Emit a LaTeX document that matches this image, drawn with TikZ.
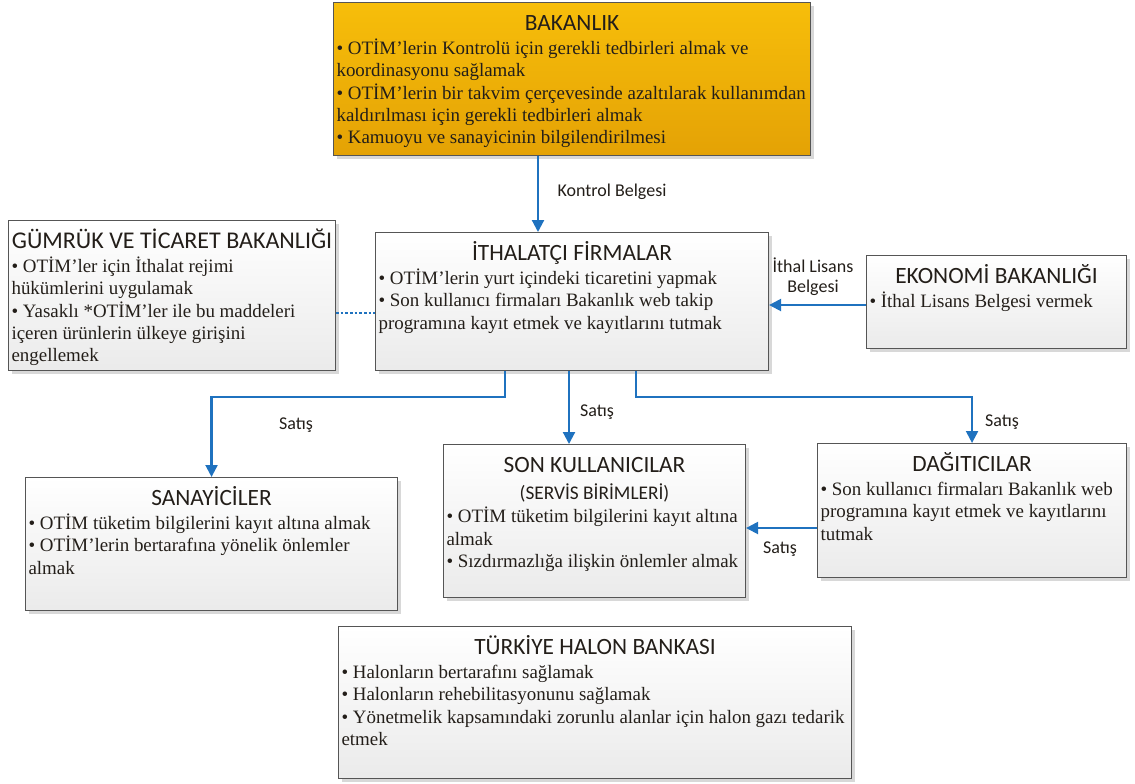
\documentclass[tikz,border=0pt]{standalone}
\usepackage{fontspec}
\setmainfont{Liberation Serif}
\setsansfont{Carlito}
\usetikzlibrary{arrows.meta,shadows,calc}

\definecolor{okmavi}{RGB}{31,114,191}
\definecolor{altinust}{RGB}{247,190,10}
\definecolor{altinalt}{RGB}{228,162,5}
\definecolor{cerceve}{RGB}{85,85,85}
\definecolor{yazi}{RGB}{35,30,25}

\newdimen\pxu \pxu=0.75pt
% kutu icerigi: genislik, yukseklik (px), baslik, maddeler
\newcommand{\kutuici}[5][17.5]{%
  \begin{minipage}[t][#3\pxu][t]{#2\pxu}
    \centering{\sffamily\fontsize{#1}{19}\selectfont\rule{0pt}{21pt}#4\par}
    \vspace{1pt}
    \raggedright\fontsize{14.2}{16.8}\selectfont #5
  \end{minipage}}

\begin{document}
\begin{tikzpicture}[
    x=0.75pt, y=-0.75pt,
    kutu/.style={draw=cerceve, line width=0.8pt, top color=white, bottom color=gray!16,
        drop shadow={shadow xshift=2.5pt, shadow yshift=-2.5pt, fill=gray!60, opacity=0.5},
        anchor=north west, inner xsep=2.25pt, inner ysep=0pt, text=yazi},
    altinkutu/.style={top color=altinust, bottom color=altinalt},
    ok/.style={draw=okmavi, line width=1.6pt, -{Triangle[length=9pt,width=9pt]}},
    kesik/.style={draw=okmavi, line width=1pt, dash pattern=on 2pt off 1.5pt},
    etiket/.style={font=\sffamily\fontsize{13.5}{15}\selectfont, text=yazi, align=center}
]
    \useasboundingbox (0,0) rectangle (1135,783);

    \node[kutu, altinkutu] (bakanlik) at (333,2) {\kutuici{471}{153}{BAKANLIK}{%
        • OTİM’lerin Kontrolü için gerekli tedbirleri almak ve\\
        koordinasyonu sağlamak\\
        • OTİM’lerin bir takvim çerçevesinde azaltılarak kullanımdan\\
        kaldırılması için gerekli tedbirleri almak\\
        • Kamuoyu ve sanayicinin bilgilendirilmesi}};
    \node[kutu] (gumruk) at (8,220) {\kutuici[18]{321}{150}{\mbox{GÜMRÜK VE TİCARET BAKANLIĞI}}{%
        • OTİM’ler için İthalat rejimi\\
        hükümlerini uygulamak\\
        • Yasaklı *OTİM’ler ile bu maddeleri\\
        içeren ürünlerin ülkeye girişini\\
        engellemek}};
    \node[kutu] (ithalatci) at (375,232) {\kutuici{387}{138}{İTHALATÇI FİRMALAR}{%
        • OTİM’lerin yurt içindeki ticaretini yapmak\\
        • Son kullanıcı firmaları Bakanlık web takip\\
        programına kayıt etmek ve kayıtlarını tutmak}};
    \node[kutu] (ekonomi) at (866,255) {\kutuici{254}{93}{EKONOMİ BAKANLIĞI}{%
        • İthal Lisans Belgesi vermek}};
    \node[kutu] (sanayici) at (25,477) {\kutuici{366}{133}{SANAYİCİLER}{%
        • OTİM tüketim bilgilerini kayıt altına almak\\
        • OTİM’lerin bertarafına yönelik önlemler\\
        almak}};
    \node[kutu] (sonkul) at (443,444) {\kutuici{296}{153}{SON KULLANICILAR\\[1pt]
        {\fontsize{14.5}{16}\selectfont (SERVİS BİRİMLERİ)}}{%
        • OTİM tüketim bilgilerini kayıt altına\\
        almak\\
        • Sızdırmazlığa ilişkin önlemler almak}};
    \node[kutu] (dagitici) at (817,443) {\kutuici{303}{134}{DAĞITICILAR}{%
        • Son kullanıcı firmaları Bakanlık web\\
        programına kayıt etmek ve kayıtlarını\\
        tutmak}};
    \node[kutu] (halon) at (338,626) {\kutuici{507}{152}{TÜRKİYE HALON BANKASI}{%
        • Halonların bertarafını sağlamak\\
        • Halonların rehebilitasyonunu sağlamak\\
        • Yönetmelik kapsamındaki zorunlu alanlar için halon gazı tedarik\\
        etmek}};

    % baglantilar
    \draw[ok] (bakanlik.south -| 538,0) -- (ithalatci.north -| 538,0);
    \draw[ok] (ekonomi.west |- 0,305) -- (ithalatci.east |- 0,305);
    \draw[kesik] (gumruk.east |- 0,313) -- (ithalatci.west |- 0,313);

    \draw[ok] (ithalatci.south -| 505,0) -- (505,397) -| (sanayici.north);
    \draw[ok] (ithalatci.south -| 569,0) -- (sonkul.north -| 569,0);
    \draw[ok] (ithalatci.south -| 636,0) -- (636,397) -| (dagitici.north);
    \draw[ok] (dagitici.west |- 0,528) -- (sonkul.east |- 0,528);

    \node[etiket] (kontrol) at (612,192) {Kontrol Belgesi};
    \node[etiket] (lisans) at (813,277) {İthal Lisans\\Belgesi};
    \node[etiket] (s1) at (296,425) {Satış};
    \node[etiket] (s2) at (597,412) {Satış};
    \node[etiket] (s3) at (1002,422) {Satış};
    \node[etiket] (s4) at (780,549) {Satış};
\end{tikzpicture}
\end{document}
